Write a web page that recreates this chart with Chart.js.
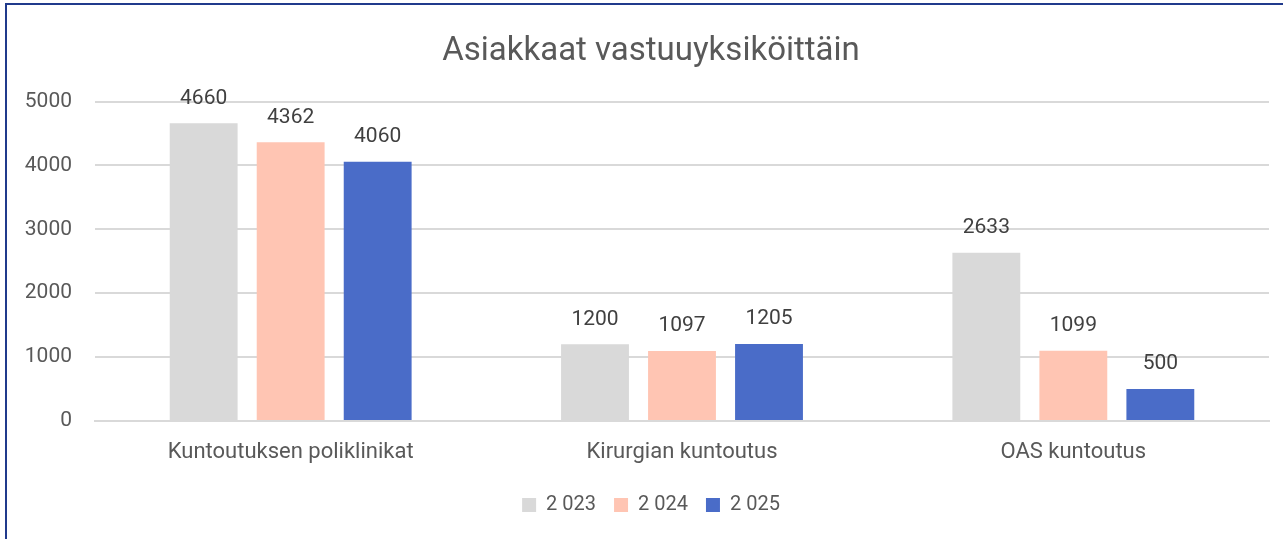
<!DOCTYPE html>
<html>
<head>
<meta charset="utf-8">
<script src="https://cdn.jsdelivr.net/npm/chart.js@4"></script>
<style>
  html, body { margin: 0; padding: 0; background: #fff; overflow: hidden; }
  #frame { position: absolute; left: 5px; top: 3px; width: 1320px; height: 560px; border: 2px solid #203a8c; box-sizing: border-box; }
  #wrap { position: absolute; left: 0; top: 0; width: 1302px; height: 539px; }
</style>
</head>
<body>
<div id="frame"></div>
<div id="wrap"><canvas id="c" width="1302" height="539"></canvas></div>
<script>
  var categories = ['Kuntoutuksen poliklinikat', 'Kirurgian kuntoutus', 'OAS kuntoutus'];
  var seriesNames = ['2 023', '2 024', '2 025'];
  var values2023 = [4660, 1200, 2633];
  var values2024 = [4362, 1097, 1099];
  var values2025 = [4060, 1205, 500];
  var yTicks = [0, 1000, 2000, 3000, 4000, 5000];

  var colors = ['#d9d9d9', '#ffc5b3', '#4a6cc8'];
  var fontFamily = 'Roboto, "Liberation Sans", sans-serif';

  // draws the value above each bar
  var barLabels = {
    id: 'barLabels',
    afterDatasetsDraw: function (chart) {
      var ctx = chart.ctx;
      ctx.save();
      ctx.font = '21px ' + fontFamily;
      ctx.fillStyle = '#404040';
      ctx.textAlign = 'center';
      ctx.textBaseline = 'middle';
      chart.data.datasets.forEach(function (ds, i) {
        chart.getDatasetMeta(i).data.forEach(function (bar, j) {
          ctx.fillText(String(ds.data[j]), bar.x, bar.y - 25);
        });
      });
      ctx.restore();
    }
  };

  var makeSet = function (i, data) {
    return {
      label: seriesNames[i],
      data: data,
      backgroundColor: colors[i],
      borderWidth: 0,
      categoryPercentage: 0.667,
      barPercentage: 0.78
    };
  };

  new Chart(document.getElementById('c'), {
    type: 'bar',
    data: {
      labels: categories,
      datasets: [makeSet(0, values2023), makeSet(1, values2024), makeSet(2, values2025)]
    },
    options: {
      responsive: false,
      animation: false,
      layout: { padding: { left: 0, right: 0, top: 0, bottom: 14 } },
      plugins: {
        title: {
          display: true,
          text: 'Asiakkaat vastuuyksiköittäin',
          color: '#595959',
          font: { family: fontFamily, size: 33, weight: 'normal' },
          padding: { top: 32, bottom: 30 }
        },
        legend: {
          position: 'bottom',
          labels: {
            color: '#595959',
            font: { family: fontFamily, size: 20 },
            boxWidth: 14,
            boxHeight: 14,
            padding: 18
          }
        },
        tooltip: { enabled: false }
      },
      scales: {
        x: {
          grid: { display: false },
          border: { color: '#d9d9d9', width: 2 },
          ticks: { color: '#595959', font: { family: fontFamily, size: 22 }, padding: 10 },
          afterFit: function (s) { s.height = 56; }
        },
        y: {
          min: 0,
          max: 5000,
          afterBuildTicks: function (s) { s.ticks = yTicks.map(function (v) { return { value: v }; }); },
          grid: { color: '#d9d9d9', lineWidth: 2, drawTicks: false },
          border: { display: false },
          ticks: {
            color: '#595959',
            font: { family: fontFamily, size: 21 },
            padding: 23,
            callback: function (v) { return String(v); }
          },
          afterFit: function (s) { s.width = 95; }
        },
        // empty space on the right side of the plot
        yRight: {
          position: 'right',
          grid: { display: false },
          border: { display: false },
          ticks: { display: false },
          afterFit: function (s) { s.width = 33; }
        }
      }
    },
    plugins: [barLabels]
  });
</script>
</body>
</html>
